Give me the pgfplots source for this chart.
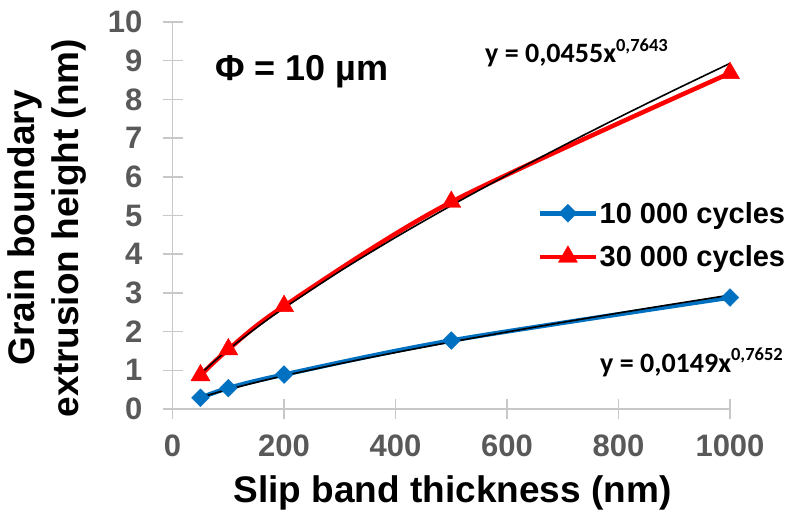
\documentclass[border=0pt]{standalone}
\usepackage{fontspec}
\setmainfont{Liberation Sans}
\newfontfamily\eqfont{Carlito}
\usepackage{pgfplots}
\pgfplotsset{compat=1.18}
\definecolor{blueS}{HTML}{0070C0}
\definecolor{redS}{HTML}{FF0000}
\definecolor{tickgray}{HTML}{595959}
\definecolor{axgray}{HTML}{C8C8C8}
\begin{document}
\begin{tikzpicture}
\useasboundingbox (-172.6pt,-106pt) rectangle (621.4pt,409pt);
\begin{axis}[
 at={(0pt,0pt)}, anchor=south west,
 scale only axis, width=557.4pt, height=387pt,
 xmin=0, xmax=1000, ymin=0, ymax=10,
 axis x line*=bottom, axis y line*=left,
 axis line style={axgray, line width=1.5pt},
 xtick={0,200,...,1000}, ytick={0,1,...,10},
 tick align=center, major tick length=20pt,
 tick style={axgray, line width=1.5pt},
 ticklabel style={font=\fontsize{31}{37}\selectfont\bfseries, text=tickgray, inner sep=0pt},
 /pgf/number format/assume math mode=true,
 /pgf/number format/1000 sep={},
 xticklabel style={anchor=north, yshift=-16pt},
 yticklabel style={anchor=east, xshift=-20pt},
 clip=false,
 legend style={at={(rel axis cs:0.6555,0.4496)}, anchor=west, draw=none, fill=none, inner sep=0pt,
   font=\fontsize{29}{35}\selectfont\bfseries, row sep=17pt, nodes={inner sep=2pt}},
 legend image code/.code={\draw[mark repeat=2, mark phase=2] plot coordinates {(0pt,0pt) (27.5pt,0pt) (55pt,0pt)};},
]
\addplot[blueS, line width=4.5pt, smooth, mark=square*, mark size=6.3pt, mark options={rotate=45, solid, line width=0.4pt}]
 coordinates {(50,0.29)(100,0.54)(200,0.89)(500,1.77)(1000,2.88)};
\addlegendentry{10 000 cycles}
\addplot[redS, line width=4.5pt, smooth, mark=triangle*, mark size=11pt, mark options={solid, line width=0.4pt}]
 coordinates {(50,0.87)(100,1.54)(200,2.66)(500,5.35)(1000,8.68)};
\addlegendentry{30 000 cycles}
% power trend lines (values of the fitted curves at these thicknesses)
\addplot[black, line width=1.6pt, smooth, forget plot] coordinates {
 (50,0.2973)(75,0.4055)(100,0.5053)(150,0.6892)(200,0.8589)(300,1.1713)(400,1.4598)
 (500,1.7315)(600,1.9908)(700,2.2401)(800,2.481)(900,2.7149)(1000,2.943)};
\addplot[black, line width=1.6pt, smooth, forget plot] coordinates {
 (50,0.9048)(75,1.2334)(100,1.5368)(150,2.0951)(200,2.6103)(300,3.5586)(400,4.434)
 (500,5.258)(600,6.044)(700,6.800)(800,7.531)(900,8.240)(1000,8.931)};
\end{axis}
\node[anchor=base west, inner sep=0pt, font=\fontsize{36}{42}\selectfont\bfseries] at (42.4pt,329pt) {Φ = 10 µm};
\node[anchor=base west, inner sep=0pt, font=\eqfont\fontsize{28}{34}\selectfont\bfseries] at (312.4pt,346pt) {y = 0,0455x\raisebox{0.42em}{\fontsize{18.5}{22}\selectfont 0,7643}};
\node[anchor=base west, inner sep=0pt, font=\eqfont\fontsize{28}{34}\selectfont\bfseries] at (427.4pt,37pt) {y = 0,0149x\raisebox{0.42em}{\fontsize{18.5}{22}\selectfont 0,7652}};
\node[rotate=90, align=center, inner sep=0pt, font=\fontsize{37}{44}\selectfont\bfseries] at (-125.6pt,181pt) {Grain boundary\\extrusion height (nm)};
\node[inner sep=0pt, font=\fontsize{37}{44}\selectfont\bfseries] at (279.9pt,-84pt) {Slip band thickness (nm)};
\end{tikzpicture}
\end{document}
